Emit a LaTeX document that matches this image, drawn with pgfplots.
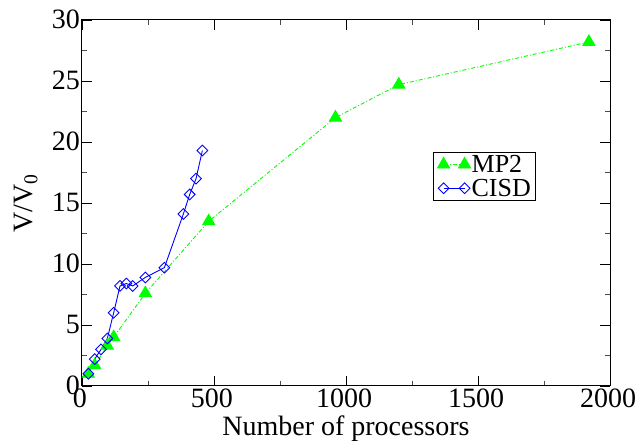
\documentclass[border=0pt]{standalone}
\usepackage{pgfplots}
\pgfplotsset{compat=1.18}
\usepackage{fontspec}
\setmainfont{Liberation Serif}
\definecolor{mgreen}{RGB}{0,255,0}
\definecolor{mblue}{RGB}{0,0,255}
\begin{document}
\begin{tikzpicture}
\begin{axis}[
  scale only axis, width=528pt, height=366pt,
  xmin=0, xmax=2000, ymin=0, ymax=30,
  xtick={0,500,...,2000}, ytick={0,5,...,30},
  xticklabels={0,500,1000,1500,2000},
  yticklabels={0,5,10,15,20,25,30},
  minor x tick num=1, minor y tick num=1,
  tick align=inside, major tick length=10pt, minor tick length=5pt,
  tick style={black, line width=0.8pt},
  minor tick style={black!70, line width=0.8pt},
  axis line style={line width=1pt},
  ticklabel style={font=\rmfamily\fontsize{28}{28}\selectfont, inner sep=2pt},
  xticklabel style={xshift=-2pt, yshift=-1pt},
  yticklabel style={yshift=1pt},
  label style={font=\rmfamily\fontsize{28}{28}\selectfont},
  xlabel={Number of processors},
  ylabel={V/V\textsubscript{0}},
  xlabel style={inner sep=0pt, yshift=-5pt},
  ylabel style={inner sep=0pt, yshift=12pt},
  legend style={at={(axis cs:1330,19.2)}, anchor=north west, draw=black, line width=0.8pt,
    font=\rmfamily\fontsize{26}{26}\selectfont, inner xsep=4pt, inner ysep=2pt, row sep=3pt,
    nodes={inner sep=1pt}, cells={anchor=west}},
  legend image code/.code={\draw[#1] plot coordinates {(0pt,0pt) (21pt,0pt)};},
]
\addplot[mgreen, line width=0.9pt, dash pattern=on 4pt off 2pt on 1pt off 2pt, mark=triangle*, mark size=7pt, mark options={solid, fill=mgreen, draw=mgreen}]
  coordinates {(24,1.0) (48,1.7) (96,3.3) (120,4.0) (240,7.6) (480,13.5) (960,22.0) (1200,24.7) (1920,28.2)};
\addlegendentry{MP2}
\addplot[mblue, line width=0.9pt, mark=square, mark size=3.8pt, mark options={solid, rotate=45, fill=white, draw=mblue, line width=0.9pt}]
  coordinates {(24,1.0) (48,2.2) (72,3.0) (96,3.9) (120,6.0) (144,8.2) (168,8.4) (192,8.2) (240,8.9) (312,9.7) (384,14.1) (408,15.7) (432,17.0) (456,19.3)};
\addlegendentry{CISD}
\end{axis}
\pgfresetboundingbox
\path (current axis.south west) ++(-82pt,-58pt) coordinate (bbsw);
\path (current axis.north east) ++(33pt,20pt) coordinate (bbne);
\path[use as bounding box] (bbsw) rectangle (bbne);
\end{tikzpicture}
\end{document}
